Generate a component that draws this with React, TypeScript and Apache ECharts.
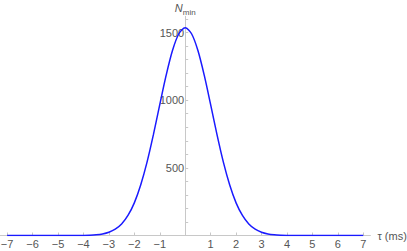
import React, { useEffect, useRef } from "react";
import * as echarts from "echarts";

const tau: number[] = [
  -7, -6, -5, -4.5, -4, -3.75, -3.5, -3.25, -3, -2.75, -2.5, -2.25, -2, -1.75, -1.5, -1.25, -1, -0.75, -0.5, -0.25,
  0,
  0.25, 0.5, 0.75, 1, 1.25, 1.5, 1.75, 2, 2.25, 2.5, 2.75, 3, 3.25, 3.5, 3.75, 4, 4.5, 5, 6, 7,
];
const nMin: number[] = [
  0, 0, 0, 0.1, 0.9, 2.3, 5.3, 11.6, 24, 46.5, 85, 148, 241, 373, 542, 745, 967, 1183, 1367, 1491,
  1535,
  1491, 1367, 1183, 967, 745, 542, 373, 241, 148, 85, 46.5, 24, 11.6, 5.3, 2.3, 0.9, 0.1, 0, 0, 0,
];
const xTicks: number[] = [-7, -6, -5, -4, -3, -2, -1, 0, 1, 2, 3, 4, 5, 6, 7];
const xLabels: number[] = [-7, -6, -5, -4, -3, -2, -1, 1, 2, 3, 4, 5, 6, 7];
const yLabels: number[] = [500, 1000, 1500];
const yTicks: number[] = [100, 200, 300, 400, 500, 600, 700, 800, 900, 1000, 1100, 1200, 1300, 1400, 1500, 1600];

const labelColor = "#555";
const axisColor = "#c8c8c8";
const font = "Liberation Sans, Arial, sans-serif";

const X_MIN = -7.28;
const X_MAX = 7.28;
const GRID_LEFT = 0;
const GRID_RIGHT = 36.6;
const CHART_W = 407;

export default function App() {
  const ref = useRef<HTMLDivElement>(null);
  useEffect(() => {
    document.body.style.margin = "0";
    if (!ref.current) return;
    const chart = echarts.init(ref.current, null, { renderer: "svg" });
    const plotW = CHART_W - GRID_LEFT - GRID_RIGHT;
    const zeroOffset = ((0 - X_MIN) / (X_MAX - X_MIN)) * plotW;
    chart.setOption({
      animation: false,
      grid: { left: GRID_LEFT, right: GRID_RIGHT, top: 16.3, bottom: 15.5, containLabel: false, outerBoundsMode: "none" },
      xAxis: {
        type: "value",
        min: X_MIN,
        max: X_MAX,
        name: "τ (ms)",
        nameLocation: "end",
        nameGap: 7,
        nameTextStyle: { color: labelColor, fontSize: 11, fontFamily: font },
        axisLine: { onZero: true, lineStyle: { color: axisColor, width: 1 } },
        axisTick: { show: true, inside: true, length: 3, customValues: xTicks, lineStyle: { color: axisColor } },
        axisLabel: {
          customValues: xLabels,
          margin: 3,
          color: labelColor,
          fontSize: 11,
          fontFamily: font,
          formatter: (v: number) => (v < 0 ? "\u2212" + Math.abs(v) : String(v)),
        },
        splitLine: { show: false },
      },
      yAxis: {
        type: "value",
        min: 0,
        max: 1620,
        position: "left",
        offset: -zeroOffset,
        name: "{n|N}{s|min}",
        nameLocation: "end",
        nameGap: 3,
        nameTextStyle: {
          color: labelColor,
          fontFamily: font,
          rich: {
            n: { fontSize: 11, fontStyle: "italic", color: labelColor, fontFamily: font, verticalAlign: "bottom" },
            s: { fontSize: 8, color: labelColor, fontFamily: font, verticalAlign: "bottom", padding: [0, 0, -3, 0] },
          },
        },
        axisLine: { show: true, onZero: false, lineStyle: { color: axisColor, width: 1 } },
        axisTick: { show: true, inside: true, length: 3, customValues: yTicks, lineStyle: { color: axisColor } },
        axisLabel: {
          customValues: yLabels,
          margin: 1,
          color: labelColor,
          fontSize: 11,
          fontFamily: font,
          formatter: (v: number) => String(v),
        },
        splitLine: { show: false },
      },
      series: [
        {
          type: "line",
          data: tau.map((t, i) => [t, nMin[i]]),
          smooth: 0.3,
          showSymbol: false,
          lineStyle: { color: "#1a1aff", width: 1.5 },
        },
      ],
    });
    return () => chart.dispose();
  }, []);
  return <div ref={ref} style={{ width: 407, height: 251 }} />;
}
